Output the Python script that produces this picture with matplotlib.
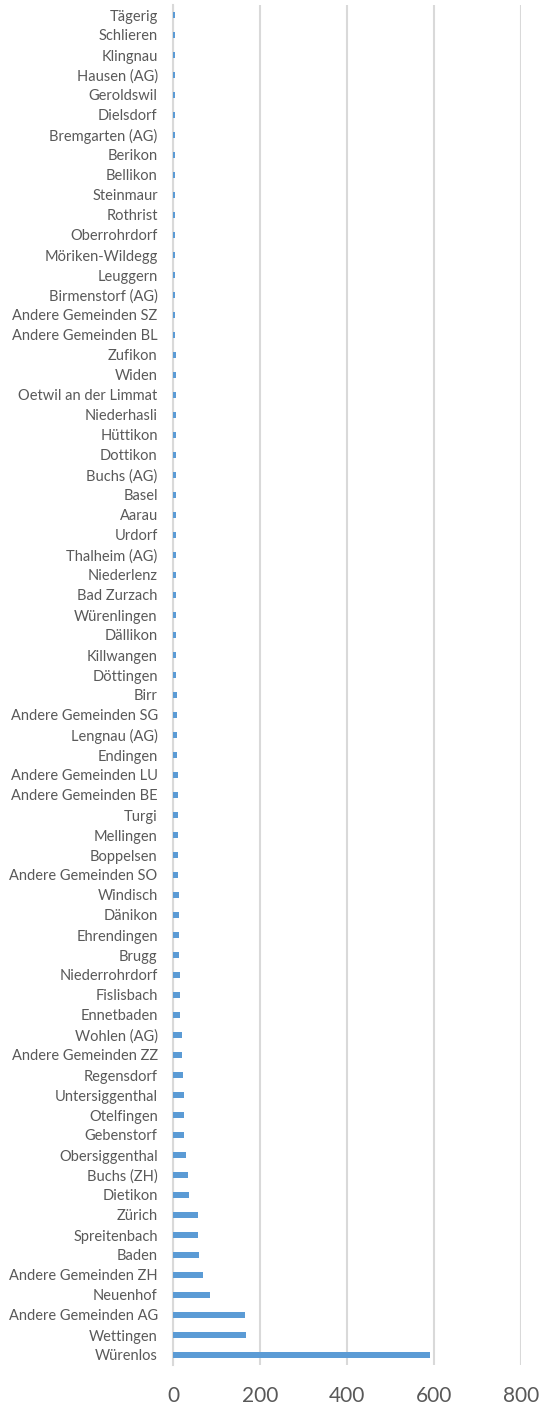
import matplotlib
matplotlib.use("Agg")
import matplotlib.pyplot as plt

# --- DATA (top of chart first) ---
gemeinden = [
    "Tägerig", "Schlieren", "Klingnau", "Hausen (AG)", "Geroldswil", "Dielsdorf",
    "Bremgarten (AG)", "Berikon", "Bellikon", "Steinmaur", "Rothrist", "Oberrohrdorf",
    "Möriken-Wildegg", "Leuggern", "Birmenstorf (AG)", "Andere Gemeinden SZ",
    "Andere Gemeinden BL", "Zufikon", "Widen", "Oetwil an der Limmat", "Niederhasli",
    "Hüttikon", "Dottikon", "Buchs (AG)", "Basel", "Aarau", "Urdorf", "Thalheim (AG)",
    "Niederlenz", "Bad Zurzach", "Würenlingen", "Dällikon", "Killwangen", "Döttingen",
    "Birr", "Andere Gemeinden SG", "Lengnau (AG)", "Endingen", "Andere Gemeinden LU",
    "Andere Gemeinden BE", "Turgi", "Mellingen", "Boppelsen", "Andere Gemeinden SO",
    "Windisch", "Dänikon", "Ehrendingen", "Brugg", "Niederrohrdorf", "Fislisbach",
    "Ennetbaden", "Wohlen (AG)", "Andere Gemeinden ZZ", "Regensdorf", "Untersiggenthal",
    "Otelfingen", "Gebenstorf", "Obersiggenthal", "Buchs (ZH)", "Dietikon", "Zürich",
    "Spreitenbach", "Baden", "Andere Gemeinden ZH", "Neuenhof", "Andere Gemeinden AG",
    "Wettingen", "Würenlos",
]
anzahl = [
    4, 4, 4, 4, 4, 4, 4, 4, 4, 5, 5, 5,
    5, 5, 5, 5,
    5, 6, 6, 6, 6,
    6, 6, 6, 6, 6, 7, 7,
    7, 7, 7, 7, 8, 8,
    9, 9, 10, 10, 11,
    11, 12, 12, 12, 12,
    13, 13, 14, 14, 15, 16,
    16, 20, 20, 22, 26,
    26, 26, 30, 34, 36, 57,
    58, 60, 68, 86, 165,
    168, 590,
]
x_ticks = [0, 200, 400, 600, 800]

BAR = "#5B9BD5"
GRID = "#D9D9D9"
TXT = "#595959"

plt.rcParams["font.family"] = ["Lato", "DejaVu Sans"]

fig = plt.figure(figsize=(5.41, 14.08), dpi=100)
ax = fig.add_axes([173 / 541, 1 - 1365 / 1408, (521 - 173) / 541, 1360 / 1408])

# first category at the top
pos = list(range(len(gemeinden)))[::-1]
ax.barh(pos, anzahl, height=0.34, color=BAR, zorder=3)

ax.set_xlim(0, 800)
ax.set_ylim(-0.5, len(gemeinden) - 0.5)
ax.set_xticks(x_ticks)
ax.set_yticks(pos)
ax.set_yticklabels(gemeinden)
ax.xaxis.grid(True, color=GRID, linewidth=1.5, zorder=0)
ax.tick_params(axis="y", length=0, pad=11, labelsize=10.5, labelcolor=TXT)
ax.tick_params(axis="x", length=0, pad=15, labelsize=15, labelcolor=TXT)
for s in ["top", "right", "bottom"]:
    ax.spines[s].set_visible(False)
ax.spines["left"].set_color(GRID)
ax.spines["left"].set_linewidth(1.5)
ax.spines["left"].set_zorder(1)

fig.savefig("out.png", dpi=100)
